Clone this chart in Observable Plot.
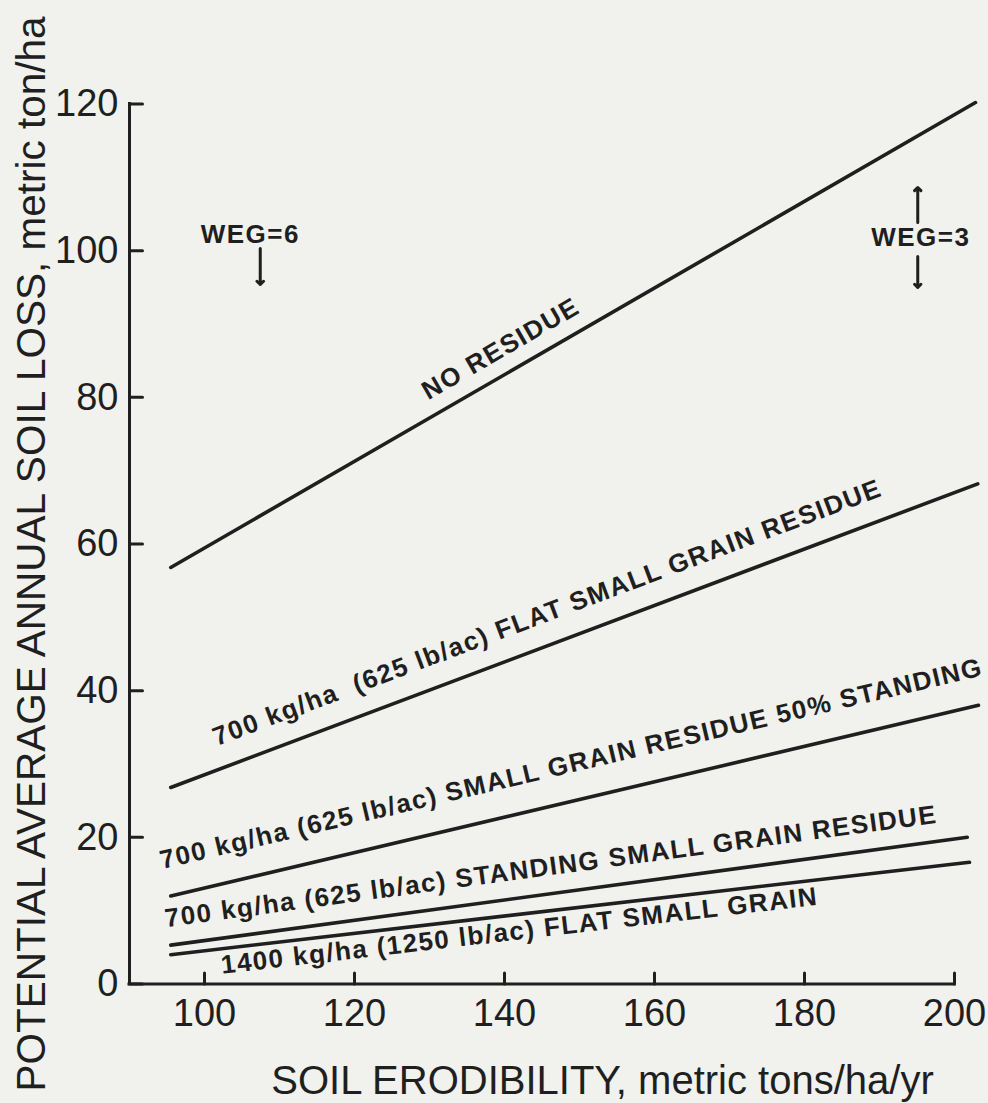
<!DOCTYPE html>
<html><head><meta charset="utf-8">
<script src="https://cdn.jsdelivr.net/npm/d3@7"></script>
<script src="https://cdn.jsdelivr.net/npm/@observablehq/plot@0.6"></script>
<style>
html,body{margin:0;padding:0;background:#f1f1ed;overflow:hidden}
#chart svg{display:block}
g[aria-label="text"][font-weight="bold"] text{letter-spacing:1.5px}
</style></head><body><div id="chart"></div>
<script>
// ---- data ----
const seriesNames = [
  "NO RESIDUE",
  "700 kg/ha (625 lb/ac) FLAT SMALL GRAIN RESIDUE",
  "700 kg/ha (625 lb/ac) SMALL GRAIN RESIDUE 50% STANDING",
  "700 kg/ha (625 lb/ac) STANDING SMALL GRAIN RESIDUE",
  "1400 kg/ha (1250 lb/ac) FLAT SMALL GRAIN"
];
const xStart = [95.5, 95.5, 95.5, 95.5, 95.5];
const xEnd   = [202.8, 203.1, 203.2, 201.7, 202.0];
const yStart = [56.8, 26.8, 12.0, 5.3, 4.0];
const yEnd   = [120.2, 68.2, 38.0, 20.0, 16.6];
const xTicks = [100, 120, 140, 160, 180, 200];
const yTicks = [0, 20, 40, 60, 80, 100, 120];
const xTitle = "SOIL ERODIBILITY, metric tons/ha/yr";
const yTitle = "POTENTIAL AVERAGE ANNUAL SOIL LOSS, metric ton/ha";
const wegText = ["WEG=6", "WEG=3"];

// ---- annotation placement ----
const labelText = ["NO RESIDUE",
  "700 kg/ha  (625 lb/ac) FLAT SMALL GRAIN RESIDUE",
  "700 kg/ha (625 lb/ac) SMALL GRAIN RESIDUE 50% STANDING",
  "700 kg/ha (625 lb/ac) STANDING SMALL GRAIN RESIDUE",
  "1400 kg/ha (1250 lb/ac) FLAT SMALL GRAIN"];
const labelAtX = [139.5, 145.7, 148.9, 146.2, 142.0];
const labelShiftPx = [-28, -33, -37.5, -27, 16.7];
const wegX = [106.1, 195.5];
const wegY = [102.2, 101.8];

// ---- layout ----
const W = 988, H = 1103, mL = 129, mR = 4, mT = 103.5, mB = 119.5;
const xDomain = [90, 204], yDomain = [0, 120];
const kx = (W - mL - mR) / (xDomain[1] - xDomain[0]);
const ky = (H - mT - mB) / (yDomain[1] - yDomain[0]);
const ink = "#1f1f1f", bg = "#f1f1ed";
const tickShape = {draw(context, l) { context.moveTo(0, 0); context.lineTo(0, -l); }};

const lineRows = seriesNames.flatMap((s, i) => [
  {series: s, x: xStart[i], y: yStart[i]},
  {series: s, x: xEnd[i], y: yEnd[i]}
]);
const labelRows = seriesNames.map((s, i) => {
  const slope = (yEnd[i] - yStart[i]) / (xEnd[i] - xStart[i]);
  const yl = yStart[i] + (labelAtX[i] - xStart[i]) * slope;
  return {
    text: labelText[i],
    x: labelAtX[i],
    y: yl - labelShiftPx[i] / ky,
    angle: -Math.atan(slope * ky / kx) * 180 / Math.PI
  };
});
const wegRows = wegText.map((t, i) => ({text: t, x: wegX[i], y: wegY[i]}));

const chart = Plot.plot({
  width: W, height: H,
  marginLeft: mL, marginRight: mR, marginTop: mT, marginBottom: mB,
  x: {domain: xDomain, label: null},
  y: {domain: yDomain, label: null},
  style: {fontFamily: "'Liberation Sans', Arial, sans-serif", background: bg, color: ink, overflow: "visible"},
  marks: [
    Plot.axisX(xTicks, {tickSize: 0, tickPadding: 15, fontSize: 38, label: null}),
    Plot.axisY(yTicks, {tickSize: 0, tickPadding: 11, fontSize: 38, label: null}),
    Plot.ruleY([yDomain[0]], {x1: xDomain[0], x2: xTicks[xTicks.length - 1], stroke: ink, strokeWidth: 3, strokeLinecap: "square"}),
    Plot.ruleX([xDomain[0]], {y1: yDomain[0], y2: yTicks[yTicks.length - 1], stroke: ink, strokeWidth: 3, strokeLinecap: "square"}),
    Plot.vector(xTicks, {x: d => d, y: () => yDomain[0], length: 11, rotate: 0, anchor: "start", shape: tickShape, stroke: ink, strokeWidth: 3}),
    Plot.vector(yTicks, {x: () => xDomain[0], y: d => d, length: 13, rotate: 90, anchor: "start", shape: tickShape, stroke: ink, strokeWidth: 3}),
    Plot.line(lineRows, {x: "x", y: "y", z: "series", stroke: ink, strokeWidth: 3.6}),
    Plot.text(labelRows, {x: "x", y: "y", text: "text", rotate: "angle", fontSize: 26, fontWeight: "bold", fill: ink}),
    Plot.text(wegRows, {x: "x", y: "y", text: "text", fontSize: 26, fontWeight: "bold", fill: ink}),
    Plot.vector([wegRows[0]], {x: "x", y: "y", length: 36, rotate: 180, anchor: "start", r: 1.6, dx: 10, dy: 14, stroke: ink, strokeWidth: 3}),
    Plot.vector([wegRows[1]], {x: "x", y: "y", length: 35, rotate: 0, anchor: "start", r: 1.6, dx: -3, dy: -15, stroke: ink, strokeWidth: 3}),
    Plot.vector([wegRows[1]], {x: "x", y: "y", length: 31, rotate: 180, anchor: "start", r: 1.8, dx: -3, dy: 19, stroke: ink, strokeWidth: 3}),
    Plot.text([yTitle], {frameAnchor: "left", textAnchor: "middle", lineAnchor: "middle", rotate: -90, dx: -97, dy: 10, fontSize: 40.5, fill: ink}),
    Plot.text([xTitle], {frameAnchor: "bottom", textAnchor: "middle", lineAnchor: "middle", dx: 45.5, dy: 97.5, fontSize: 40, fill: ink})
  ]
});
document.getElementById("chart").appendChild(chart);
</script></body></html>
